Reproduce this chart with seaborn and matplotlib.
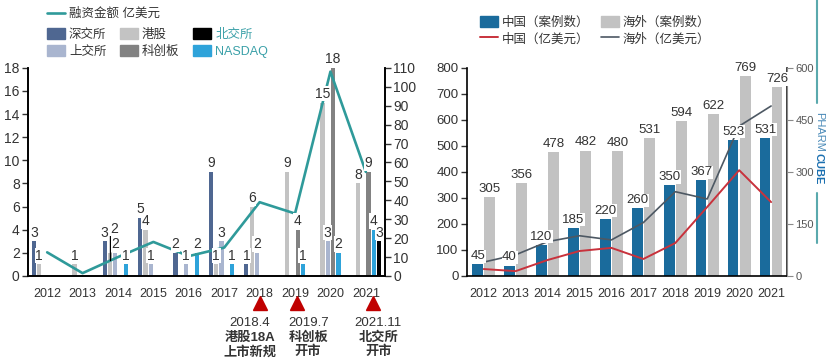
import numpy as np
import pandas as pd
import matplotlib
matplotlib.use("Agg")
import matplotlib.pyplot as plt
import seaborn as sns
from matplotlib.patches import Patch
from matplotlib.lines import Line2D

years = [str(y) for y in range(2012, 2022)]

# left panel: listings per venue + financing amount (亿美元)
szse = [3, 0, 3, 5, 2, 9, 1, 0, 0, 0]
hkex = [1, 1, 2, 4, 0, 1, 6, 9, 15, 8]
sse = [0, 0, 2, 1, 1, 3, 2, 0, 3, 0]
star = [0, 0, 0, 0, 0, 0, 0, 4, 18, 9]
nasdaq = [0, 0, 1, 0, 2, 1, 0, 1, 2, 4]
bse = [0, 0, 0, 0, 0, 0, 0, 0, 0, 3]
ipo_amount = [12.5, 1.5, 10, 18, 10.5, 15, 39, 33, 108, 55]

# events under the left panel
event_pos = [6.0, 7.05, 9.2]
event_text_pos = [5.73, 7.37, 9.35]
event_dates = ["2018.4", "2019.7", "2021.11"]
event_line1 = ["港股18A", "科创板", "北交所"]
event_line2 = ["上市新规", "开市", "开市"]

# right panel: deal counts and amounts
cn_cases = [45, 40, 120, 185, 220, 260, 350, 367, 523, 531]
os_cases = [305, 356, 478, 482, 480, 531, 594, 622, 769, 726]
cn_amount = [20, 14, 46, 72, 81, 49, 95, 199, 305, 213]
os_amount = [40, 61, 99, 116, 104, 154, 243, 222, 432, 490]

sns.set_theme(style="white")
plt.rcParams["font.family"] = ["Liberation Sans", "Noto Sans CJK SC", "DejaVu Sans"]
plt.rcParams["text.color"] = "#333333"
plt.rcParams["xtick.color"] = "#333333"
plt.rcParams["ytick.color"] = "#333333"

teal = "#2f9a9a"
venues = ["深交所", "港股", "上交所", "科创板", "NASDAQ", "北交所"]
venue_colors = {
    "深交所": "#4f6791",
    "上交所": "#a9b5cf",
    "港股": "#c3c3c3",
    "科创板": "#828282",
    "北交所": "#000000",
    "NASDAQ": "#2ea3da",
}

left_df = pd.DataFrame({
    "year": years * 6,
    "venue": np.repeat(venues, 10),
    "count": szse + hkex + sse + star + nasdaq + bse,
})

fig = plt.figure(figsize=(8.32, 3.62), dpi=100)
ax = fig.add_axes([0.0337, 0.2376, 0.429, 0.575])
ax_r = fig.add_axes([0.561, 0.2376, 0.385, 0.575])

# ---------------- left panel ----------------
sns.barplot(data=left_df, x="year", y="count", hue="venue", hue_order=venues,
            palette=venue_colors, width=0.9, gap=0.2, saturation=1,
            linewidth=0, edgecolor="none", legend=False, ax=ax)
ax.set_xlim(-0.54, 9.54)
ax.set_ylim(0, 18)
ax.set_yticks(range(0, 19, 2))
ax.set_xlabel("")
ax.set_ylabel("")

ax2 = ax.twinx()
sns.lineplot(x=np.arange(10), y=ipo_amount, color=teal, lw=1.9, ax=ax2)
ax2.set_ylim(0, 110)
ax2.set_yticks(range(0, 111, 10))

for venue, container in zip(venues, ax.containers):
    for yr, p in zip(years, container):
        h = p.get_height()
        if h <= 0:
            continue
        xc = p.get_x() + p.get_width() / 2
        ty = h + 0.15
        if venue == "港股" and yr == "2014":
            # crowded label raised with a leader line, as in the source
            ty = h + 1.5
            ax2.plot([xc, xc], [h - 0.6, ty + 1.1], color="black", lw=1,
                     transform=ax.transData, zorder=6)
            xc += 0.11
        ax2.text(xc, ty, str(int(h)), transform=ax.transData, ha="center", va="bottom",
                 fontsize=10, zorder=6,
                 bbox=dict(boxstyle="square,pad=0.05", fc="white", ec="none"))

for a in (ax, ax2):
    a.spines["top"].set_visible(False)
    for s in ("left", "right", "bottom"):
        a.spines[s].set_color("black")
        a.spines[s].set_linewidth(1.2)
ax.tick_params(axis="y", left=True, direction="out", length=4, width=1, labelsize=10, pad=2)
ax.tick_params(axis="x", bottom=False, labelsize=9, pad=3)
ax2.tick_params(axis="y", right=True, direction="out", length=4, width=1, labelsize=10, pad=2)

xt = ax.get_xaxis_transform()
ax.plot(event_pos, [-0.13] * 3, marker="^", ms=10, color="#c00000", ls="none",
        transform=xt, clip_on=False)
for xp, d, l1, l2 in zip(event_text_pos, event_dates, event_line1, event_line2):
    ax.text(xp, -0.226, d, transform=xt, ha="center", va="center", fontsize=9.5)
    ax.text(xp, -0.298, l1, transform=xt, ha="center", va="center", fontsize=9.5, fontweight="bold")
    ax.text(xp, -0.365, l2, transform=xt, ha="center", va="center", fontsize=9.5, fontweight="bold")

# legends for left panel
leg1 = fig.legend(handles=[Line2D([], [], color=teal, lw=1.9)], labels=["融资金额 亿美元"],
                  loc="upper left", bbox_to_anchor=(0.0565, 0.978), frameon=False,
                  fontsize=9, handlelength=1.45, handletextpad=0.3, borderpad=0, borderaxespad=0)
order = ["深交所", "上交所", "港股", "科创板", "北交所", "NASDAQ"]
leg2 = fig.legend(handles=[Patch(color=venue_colors[v]) for v in order], labels=order,
                  ncol=3, loc="upper left", bbox_to_anchor=(0.0565, 0.923), frameon=False,
                  fontsize=9, handlelength=1.45, handleheight=1.0, handletextpad=0.3,
                  columnspacing=1.1, labelspacing=0.35, borderpad=0, borderaxespad=0)
for t in leg2.get_texts():
    if t.get_text() in ("北交所", "NASDAQ"):
        t.set_color("#3aa0a8")

# ---------------- right panel ----------------
blue = "#1a6b9c"
gray = "#c2c2c2"
right_df = pd.DataFrame({
    "year": years * 2,
    "region": ["中国（案例数）"] * 10 + ["海外（案例数）"] * 10,
    "cases": cn_cases + os_cases,
})
sns.barplot(data=right_df, x="year", y="cases", hue="region",
            palette=[blue, gray], width=0.76, gap=0.13, saturation=1,
            linewidth=0, edgecolor="none", legend=False, ax=ax_r)
ax_r.set_xlim(-0.53, 9.5)
ax_r.set_ylim(0, 800)
ax_r.set_yticks(range(0, 801, 100))
ax_r.set_xlabel("")
ax_r.set_ylabel("")

ax_r2 = ax_r.twinx()
sns.lineplot(x=np.arange(10), y=cn_amount, color="#c8323c", lw=1.4, ax=ax_r2)
sns.lineplot(x=np.arange(10), y=os_amount, color="#4d5863", lw=1.2, ax=ax_r2)
ax_r2.set_ylim(0, 600)
ax_r2.set_yticks(range(0, 601, 150))

for container in ax_r.containers:
    for p in container:
        h = p.get_height()
        ax_r2.text(p.get_x() + p.get_width() / 2, h + 8, str(int(h)),
                   transform=ax_r.transData, ha="center", va="bottom",
                   fontsize=9.5, zorder=6,
                   bbox=dict(boxstyle="square,pad=0.05", fc="white", ec="none"))

for a in (ax_r, ax_r2):
    a.spines["top"].set_visible(False)
ax_r.spines["left"].set_color("black")
ax_r.spines["left"].set_linewidth(1.2)
ax_r.spines["bottom"].set_color("black")
ax_r.spines["bottom"].set_linewidth(1.2)
ax_r2.spines["right"].set_color("#8a8a8a")
ax_r2.spines["right"].set_linewidth(0.8)
ax_r2.spines["left"].set_visible(False)
ax_r2.spines["bottom"].set_visible(False)
ax_r.tick_params(axis="y", left=True, direction="out", length=4, width=1, labelsize=9.5, pad=2)
ax_r.tick_params(axis="x", bottom=False, labelsize=9, pad=3)
ax_r2.tick_params(axis="y", right=True, direction="out", length=4, width=0.8,
                  color="#8a8a8a", labelcolor="#555555", labelsize=8, pad=2)

leg3 = fig.legend(
    handles=[Patch(color=blue), Line2D([], [], color="#c8323c", lw=1.4),
             Patch(color=gray), Line2D([], [], color="#4d5863", lw=1.2)],
    labels=["中国（案例数）", "中国（亿美元）", "海外（案例数）", "海外（亿美元）"],
    ncol=2, loc="upper left", bbox_to_anchor=(0.577, 0.956), frameon=False,
    fontsize=9, handlelength=1.45, handleheight=1.0, handletextpad=0.3,
    columnspacing=0.9, labelspacing=0.3, borderpad=0, borderaxespad=0)

# watermark on the right edge
fig.add_artist(Line2D([0.982, 0.982], [1.0, 0.715], color="#5aa9ad", lw=1.5))
fig.add_artist(Line2D([0.982, 0.982], [0.467, 0.33], color="#5aa9ad", lw=1.5))
wm = fig.text(0.984, 0.635, "PHARM", rotation=-90, ha="center", va="center",
              fontsize=8, color="#4a8ab8")
fig.text(0.984, 0.635, "", fontsize=1)
ax_r.annotate("CUBE", xy=(0.5, 0), xycoords=wm, xytext=(0, -1), textcoords="offset points",
              rotation=-90, ha="center", va="top", fontsize=8, color="#1a6fb0",
              fontweight="bold", annotation_clip=False)

fig.savefig("out.png", dpi=100)
